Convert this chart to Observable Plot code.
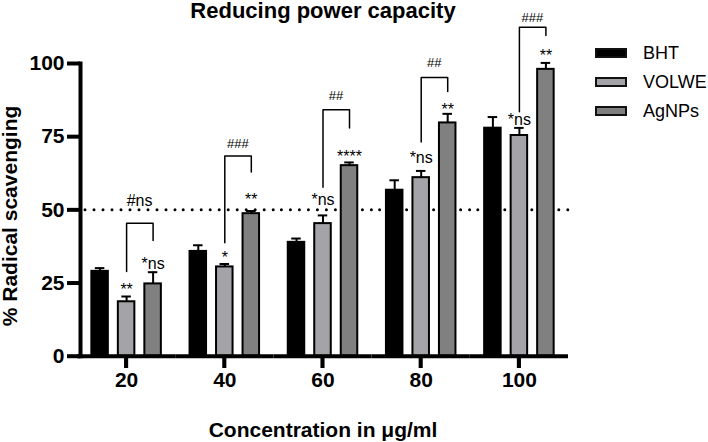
<!DOCTYPE html>
<html><head><meta charset="utf-8">
<script src="https://cdn.jsdelivr.net/npm/d3@7"></script>
<script src="https://cdn.jsdelivr.net/npm/@observablehq/plot@0.6"></script>
<style>
body{margin:0;background:#fff;}
#wrap{position:relative;width:708px;height:442px;font-family:"Liberation Sans",Arial,sans-serif;overflow:hidden;}
#title{position:absolute;left:0;top:0;width:646px;text-align:center;font-weight:bold;font-size:22px;line-height:22px;}
.lg{position:absolute;left:595px;height:20px;display:flex;align-items:center;font-size:18px;white-space:nowrap;}
.sw{width:32px;height:10px;box-sizing:border-box;border:2px solid #111;margin-right:16px;}
</style></head>
<body>
<div id="wrap"><div id="title">Reducing power capacity</div></div>
<script>
const categories = ["20","40","60","80","100"];
const seriesNames = ["BHT","VOLWE","AgNPs"];
const seriesColors = ["#000000","#a3a3a8","#808080"];
const bht = [29.0, 35.8, 38.9, 56.7, 77.9];
const bhtErr = [1.1, 2.1, 1.3, 3.4, 3.8];
const volwe = [18.6, 30.5, 45.3, 61.0, 75.4];
const volweErr = [1.8, 1.0, 2.8, 2.3, 2.6];
const agnps = [24.7, 48.7, 65.1, 79.7, 98.0];
const agnpsErr = [4.0, 0.9, 1.1, 3.1, 2.2];
const starVolwe = ["**","*","*ns","*ns","*ns"];
const starVolweY = [20.8, 31.7, 51.5, 66.0, 79.0];
const starAgnps = ["*ns","**","****","**","**"];
const starAgnpsY = [29.7, 51.7, 66.4, 82.5, 101.0];
const hashLabels = ["#ns","###","##","##","###"];
const hashY = [51.2, 71.0, 87.7, 98.9, 114.1];
const bracketLeft = [28.9, 38.8, 57.7, 73.2, 83.5];
const bracketTop = [45.4, 68.4, 84.2, 95.2, 112.4];
const bracketRight = [39.5, 62.9, 78.0, 90.4, 109.6];
const yTicks = [0, 25, 50, 75, 100];
const tickDepth = -4.2;

const values = {BHT: bht, VOLWE: volwe, AgNPs: agnps};
const errs = {BHT: bhtErr, VOLWE: volweErr, AgNPs: agnpsErr};
const rows = [];
categories.forEach((c, i) => seriesNames.forEach(s => rows.push({cat: c, series: s, value: values[s][i], top: values[s][i] + errs[s][i]})));
const stars = [];
categories.forEach((c, i) => {
  stars.push({cat: c, series: "VOLWE", y: starVolweY[i], label: starVolwe[i]});
  stars.push({cat: c, series: "AgNPs", y: starAgnpsY[i], label: starAgnps[i]});
});
const brackets = [];
categories.forEach((c, i) => {
  brackets.push({cat: c, series: "VOLWE", y: bracketLeft[i], g: i});
  brackets.push({cat: c, series: "VOLWE", y: bracketTop[i], g: i});
  brackets.push({cat: c, series: "AgNPs", y: bracketTop[i], g: i});
  brackets.push({cat: c, series: "AgNPs", y: bracketRight[i], g: i});
});
const hashes = categories.map((c, i) => ({cat: c, y: hashY[i], label: hashLabels[i]}));
const fxTicks = categories.map(c => ({cat: c, series: "VOLWE", lo: tickDepth, hi: 0}));

const chart = Plot.plot({
  width: 708, height: 442,
  marginLeft: 77, marginRight: 140, marginTop: 63, marginBottom: 74,
  style: {fontFamily: '"Liberation Sans", Arial, sans-serif', overflow: "visible", background: "transparent", color: "#000"},
  fx: {domain: categories, padding: 0, round: false, label: null},
  x: {domain: seriesNames, paddingInner: 0.377, paddingOuter: 0.541, round: false, axis: null},
  y: {domain: [tickDepth, 100]},
  color: {domain: seriesNames, range: seriesColors},
  marks: [
    Plot.ruleY([50], {stroke: "#000", strokeWidth: 3, strokeDasharray: "0,9", strokeDashoffset: -8, strokeLinecap: "round"}),
    Plot.barY(rows, {fx: "cat", x: "series", y: "value", fill: "series", stroke: "#000", strokeWidth: 2}),
    Plot.ruleX(rows, {fx: "cat", x: "series", y1: "value", y2: "top", stroke: "#000", strokeWidth: 2}),
    Plot.tickY(rows, {fx: "cat", x: "series", y: "top", stroke: "#000", strokeWidth: 2, insetLeft: 3.5, insetRight: 3.5}),
    Plot.line(brackets, {fx: "cat", x: "series", y: "y", z: "g", stroke: "#000", strokeWidth: 1.5}),
    Plot.text(stars, {fx: "cat", x: "series", y: "y", text: "label", lineAnchor: "bottom", fontSize: 16, fill: "#000"}),
    Plot.text(hashes, {fx: "cat", y: "y", text: "label", lineAnchor: "bottom", dx: 13, fontSize: d => d.label.includes("ns") ? 16 : 13, fill: "#000"}),
    Plot.barY(fxTicks, {fx: "cat", x: "series", y1: "lo", y2: "hi", fill: "#000", insetLeft: 6.2, insetRight: 6.2}),
    Plot.ruleY([0], {stroke: "#000", strokeWidth: 4}),
    Plot.frame({anchor: "left", facetAnchor: "left", insetBottom: 12.3, strokeWidth: 4, stroke: "#000", dx: 3}),
    Plot.axisY({ticks: yTicks, tickSize: 13, tickPadding: 3, strokeWidth: 4, fontSize: 21, fontWeight: "bold", dx: 3,
      label: "% Radical scavenging", labelAnchor: "center", labelArrow: "none", labelOffset: 75}),
    Plot.axisFx({anchor: "bottom", tickSize: 0, tickPadding: 4, fontSize: 21, fontWeight: "bold",
      label: "Concentration in μg/ml", labelAnchor: "center", labelArrow: "none", labelOffset: 68})
  ]
});
const wrap = document.getElementById("wrap");
wrap.insertBefore(chart, wrap.firstChild);
chart.style.position = "absolute"; chart.style.left = "0"; chart.style.top = "0";

const centers = [53, 82, 111];
seriesNames.forEach((s, i) => {
  const item = document.createElement("div");
  item.className = "lg";
  item.style.top = (centers[i] - 10) + "px";
  const sw = document.createElement("div");
  sw.className = "sw";
  sw.style.background = seriesColors[i];
  item.appendChild(sw);
  item.appendChild(document.createTextNode(s));
  wrap.appendChild(item);
});
</script>
</body></html>
